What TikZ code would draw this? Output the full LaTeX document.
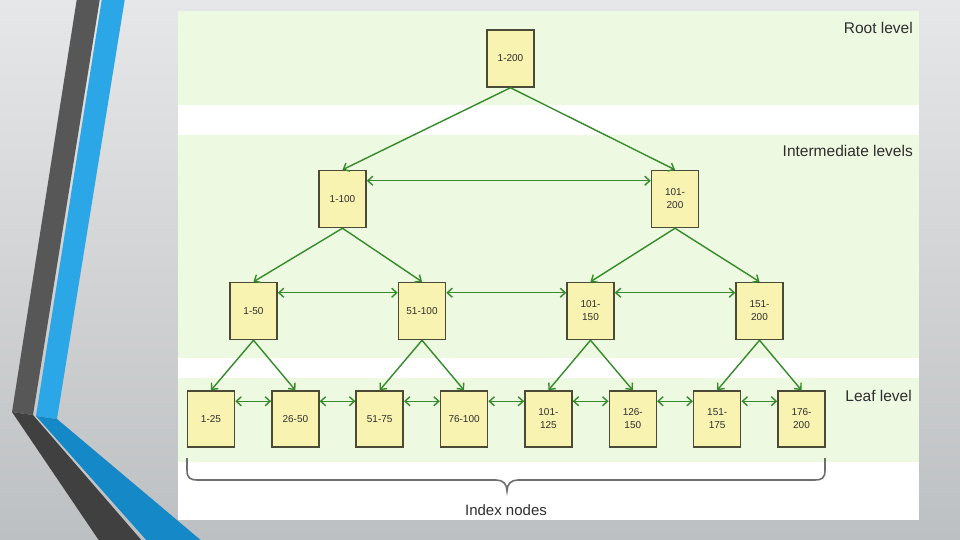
\documentclass[tikz,border=0pt]{standalone}
\usepackage{fontspec}
\setmainfont{Liberation Sans}
\usetikzlibrary{arrows.meta,calc}
\definecolor{bgtop}{HTML}{E6E7E8}
\definecolor{bgbot}{HTML}{BDC0C2}
\definecolor{darkup}{HTML}{575757}
\definecolor{darklow}{HTML}{404040}
\definecolor{blueup}{HTML}{2BA6E6}
\definecolor{bluelow}{HTML}{1588C8}
\definecolor{band}{HTML}{EDF9E0}
\definecolor{nodefill}{HTML}{F9F3B2}
\definecolor{nodeborder}{HTML}{4A4A36}
\definecolor{linkgreen}{HTML}{358A2B}
\definecolor{textdark}{HTML}{2E2E2E}
\definecolor{bracegray}{HTML}{6E6E6E}
\begin{document}
\begin{tikzpicture}[x=1pt,y=-1pt,
  idx/.style={draw=nodeborder, line width=1.5pt, fill=nodefill, minimum width=47pt,
    minimum height=57pt, inner sep=0pt, align=center, text=textdark,
    font=\fontsize{10}{13}\selectfont},
  leafbox/.style={idx, minimum height=56pt},
  link/.style={draw=linkgreen, line width=1.4pt, -{Straight Barb[length=5pt,width=9pt]}},
  twoway/.style={link, {Straight Barb[length=5pt,width=9pt]}-{Straight Barb[length=5pt,width=9pt]}},
  lvl/.style={font=\fontsize{15.5}{18}\selectfont, text=textdark, anchor=east, inner sep=0pt},
  bracestyle/.style={draw=bracegray, line width=1.6pt}
]
\useasboundingbox (0,0) rectangle (960,540);
\clip (0,0) rectangle (960,540);
% slide background
\shade[top color=bgtop, bottom color=bgbot] (0,0) rectangle (960,540);
% stripes
\fill[darkup] (77,-2) -- (100,-2) -- (33,415) -- (12,412) -- cycle;
\fill[blueup] (102,-2) -- (125,-2) -- (57,419) -- (36,416) -- cycle;
\fill[darklow] (12,412) -- (33,415) -- (143,542) -- (100,542) -- cycle;
\fill[bluelow] (36,416) -- (57,419) -- (203,542) -- (148,542) -- cycle;
% panel
\fill[white] (178,11) rectangle (919,520);
\fill[band] (178,11) rectangle (919,105);
\fill[band] (178,135) rectangle (919,358);
\fill[band] (178,378) rectangle (919,462);
% level labels
\node[lvl] (rootlbl) at (913,28) {Root level};
\node[lvl] (intlbl) at (913,151) {Intermediate levels};
\node[lvl] (leaflbl) at (912,396) {Leaf level};
% nodes
\node[idx] (r) at (510.5,58.5) {1-200};
\node[idx] (i1) at (342.5,199) {1-100};
\node[idx] (i2) at (675,199) {101-\\200};
\node[idx] (m1) at (253.5,311) {1-50};
\node[idx] (m2) at (422,311) {51-100};
\node[idx] (m3) at (590.5,311) {101-\\150};
\node[idx] (m4) at (759.5,311) {151-\\200};
\node[leafbox] (l1) at (211,419) {1-25};
\node[leafbox] (l2) at (295.4,419) {26-50};
\node[leafbox] (l3) at (379.7,419) {51-75};
\node[leafbox] (l4) at (464.1,419) {76-100};
\node[leafbox] (l5) at (548.4,419) {101-\\125};
\node[leafbox] (l6) at (632.8,419) {126-\\150};
\node[leafbox] (l7) at (717.2,419) {151-\\175};
\node[leafbox] (l8) at (801.5,419) {176-\\200};
% parent-child links
\foreach \p/\c in {r/i1, r/i2, i1/m1, i1/m2, i2/m3, i2/m4,
                   m1/l1, m1/l2, m2/l3, m2/l4, m3/l5, m3/l6, m4/l7, m4/l8}
  \draw[link] (\p.south) -- (\c.north);
% sibling links
\foreach \a/\b in {i1/i2, m1/m2, m2/m3, m3/m4,
                   l1/l2, l2/l3, l3/l4, l4/l5, l5/l6, l6/l7, l7/l8}
  \draw[twoway] ([yshift=-11pt]\a.north east) -- ([yshift=-11pt]\b.north west);
% brace
\draw[bracestyle] (187,458) -- (187,470) .. controls (187,478) and (190,480) .. (198,480)
  -- (496,480) .. controls (503,480) and (507,484) .. (507,491)
  .. controls (507,484) and (511,480) .. (518,480)
  -- (815,480) .. controls (822,480) and (825,478) .. (825,470) -- (825,458);
\node[font=\fontsize{15}{18}\selectfont, text=textdark, inner sep=0pt] (ixlbl) at (506,510) {Index nodes};
\end{tikzpicture}
\end{document}
